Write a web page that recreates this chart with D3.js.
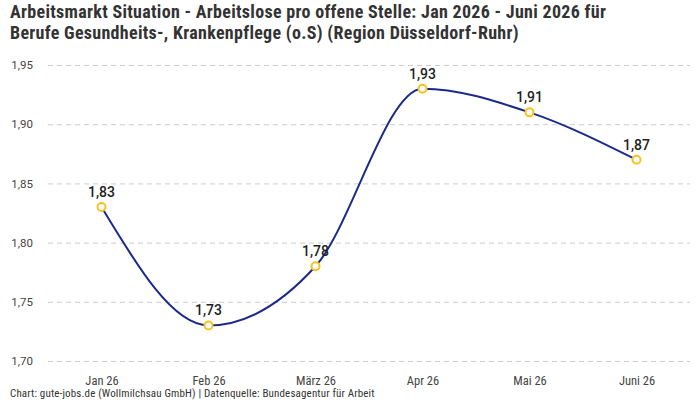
<!DOCTYPE html>
<html><head><meta charset="utf-8">
<script src="https://cdn.jsdelivr.net/npm/d3@7"></script>
<style>body{margin:0;background:#fff}svg{display:block}</style>
</head><body>
<svg id="c" width="700" height="400"></svg>
<script>
const categories = ["Jan 26","Feb 26","März 26","Apr 26","Mai 26","Juni 26"];
const values = [1.83,1.73,1.78,1.93,1.91,1.87];
const yTicks = [1.70,1.75,1.80,1.85,1.90,1.95];
const titleLines = ["Arbeitsmarkt Situation - Arbeitslose pro offene Stelle: Jan 2026 - Juni 2026 für","Berufe Gesundheits-, Krankenpflege (o.S) (Region Düsseldorf-Ruhr)"];
const footer = "Chart: gute-jobs.de (Wollmilchsau GmbH) | Datenquelle: Bundesagentur für Arbeit";

(function(){
const svg = d3.select("#c");
const font = "'Roboto Condensed','Liberation Sans Narrow','DejaVu Sans Condensed',Roboto,sans-serif";
const mLeft = 48, mRight = 690, mTop = 65, mBottom = 361;
const x = d3.scalePoint().domain(categories).range([mLeft, mRight]).padding(0.5);
const y = d3.scaleLinear().domain([1.70,1.95]).range([mBottom, mTop]);
const fmt = d => d3.format(".2f")(d).replace(".", ",");

svg.append("g").selectAll("text").data(titleLines).join("text")
  .attr("x", 10).attr("y", (d,i) => 18 + i*21)
  .attr("font-family", font).attr("font-weight", "bold").attr("font-size", 18)
  .attr("letter-spacing", 0.3)
  .attr("fill", "#333").text(d => d);

const yAxis = svg.append("g").attr("transform", `translate(${mLeft},0)`)
  .call(d3.axisLeft(y).tickValues(yTicks).tickSize(-(mRight-mLeft)).tickPadding(15).tickFormat(fmt));
yAxis.select(".domain").remove();
yAxis.selectAll(".tick line").attr("stroke", "#ccc").attr("stroke-dasharray", "5,4");
yAxis.selectAll(".tick text").attr("font-family", "Roboto,sans-serif").attr("font-size", 11.5).attr("fill", "#444");

const xAxis = svg.append("g").attr("transform", `translate(0,${mBottom})`)
  .call(d3.axisBottom(x).tickSize(0).tickPadding(15));
xAxis.select(".domain").remove();
xAxis.selectAll(".tick text").attr("font-family", font).attr("font-size", 12.5).attr("fill", "#444");

const data = categories.map((c,i) => ({c, v: values[i]}));
svg.append("path").datum(data)
  .attr("fill", "none").attr("stroke", "#1b2a8a").attr("stroke-width", 2)
  .attr("d", d3.line().x(d => x(d.c)).y(d => y(d.v)).curve(d3.curveMonotoneX));

svg.append("g").selectAll("circle").data(data).join("circle")
  .attr("cx", d => x(d.c)).attr("cy", d => y(d.v)).attr("r", 4)
  .attr("fill", "#fff").attr("stroke", "#f7c320").attr("stroke-width", 2);

svg.append("g").selectAll("text").data(data).join("text")
  .attr("x", d => x(d.c)).attr("y", d => y(d.v) - 10)
  .attr("text-anchor", "middle").attr("font-family", "Roboto,sans-serif")
  .attr("font-size", 14).attr("font-weight", 500).attr("fill", "#222").text(d => fmt(d.v));

svg.append("text").attr("x", 10).attr("y", 397)
  .attr("font-family", font).attr("font-size", 11).attr("letter-spacing", 0.15).attr("fill", "#333").text(footer);
})();
</script>
</body></html>
